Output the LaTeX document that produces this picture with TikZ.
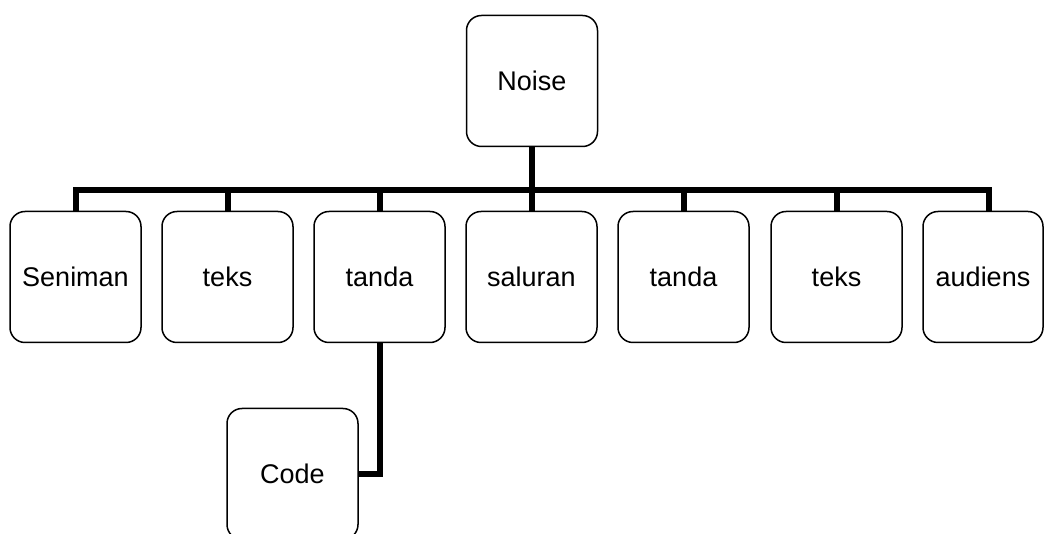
\documentclass[tikz,border=0pt]{standalone}
\usepackage{fontspec}
\setmainfont{Liberation Sans}
\begin{document}
\begin{tikzpicture}[x=1pt,y=-1pt,
  box/.style={draw=black, line width=1.5pt, rounded corners=15pt, fill=white,
    minimum width=131pt, minimum height=131pt, inner sep=0pt,
    font=\fontsize{27}{32}\selectfont},
  link/.style={draw=black, line width=6pt, line join=miter}]
  \useasboundingbox (0,0) rectangle (1045,534);
  \clip (0,0) rectangle (1045,534);

  % root
  \node[box] (noise) at (532,81) {Noise};

  % second level
  \node[box] (seniman) at (75.5,277) {Seniman};
  \node[box] (teks1)   at (227.5,277) {teks};
  \node[box] (tanda1)  at (379.5,277) {tanda};
  \node[box] (saluran) at (531.5,277) {saluran};
  \node[box] (tanda2)  at (683.5,277) {tanda};
  \node[box] (teks2)   at (836.5,277) {teks};
  \node[box, minimum width=120pt] (audiens) at (983,277) {audiens};

  % third level
  \node[box] (code) at (292.5,474) {Code};

  % bus line
  \coordinate (bus) at (532,190);
  \coordinate (audtop) at ([xshift=6pt]audiens.north);

  \draw[link] (noise.south) -- (bus);
  \draw[link] (seniman.north) |- (bus) -| (audtop);
  \foreach \n in {teks1,tanda1,saluran,tanda2,teks2}
    \draw[link] (\n.north) -- (\n.north |- bus);

  \draw[link] (tanda1.south) |- (code.east);
\end{tikzpicture}
\end{document}
